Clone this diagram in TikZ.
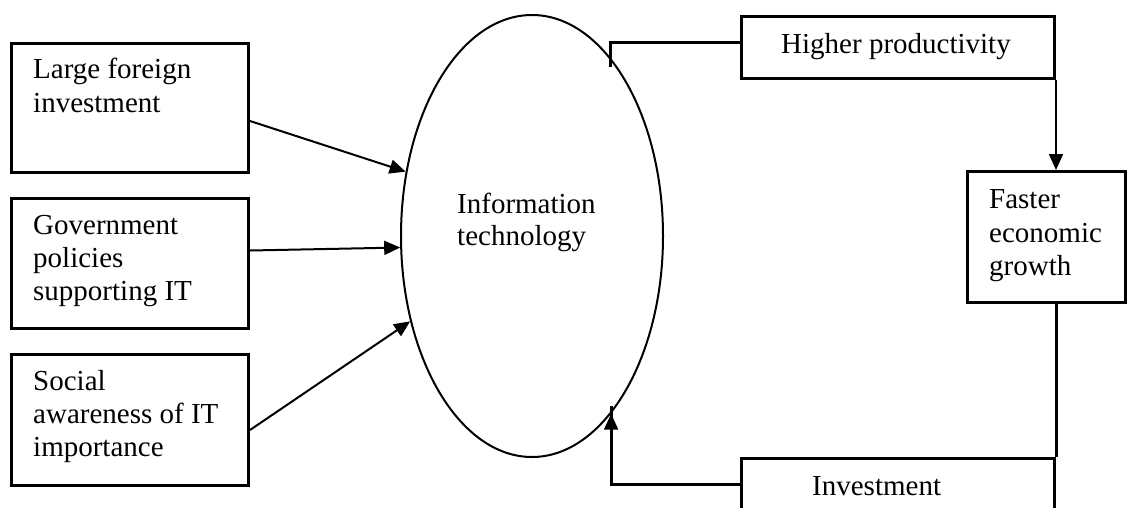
\documentclass[tikz,border=0pt]{standalone}
\usepackage{fontspec}
\setmainfont{Liberation Serif}
\usetikzlibrary{shapes.geometric,arrows.meta}
\begin{document}
\begin{tikzpicture}[x=1pt,y=-1pt,
  boxnode/.style={draw=black,line width=3pt,rectangle,inner sep=0pt,anchor=north west},
  txt/.style={inner sep=0pt,anchor=base west,align=left,font=\fontsize{29}{33}\selectfont},
  conn/.style={draw=black,line width=2pt},
  arr/.style={conn,-{Triangle[length=16pt,width=14pt]}},
  thick3/.style={draw=black,line width=3pt}]
\useasboundingbox (0,0) rectangle (1129,507);
\clip (0,0) rectangle (1129,507);
% left boxes
\node[boxnode,minimum width=237pt,minimum height=129pt] (b1) at (10,42) {};
\node[boxnode,minimum width=237pt,minimum height=130pt] (b2) at (10,197) {};
\node[boxnode,minimum width=237pt,minimum height=131pt] (b3) at (10,353) {};
\node[txt] (t1) at (33,78) {Large foreign};
\node[txt] (t1b) at (33,112) {investment};
\node[txt] (t2) at (33,234) {Government};
\node[txt] (t2b) at (33,267) {policies};
\node[txt] (t2c) at (33,300) {supporting IT};
\node[txt] (t3) at (33,390) {Social};
\node[txt] (t3b) at (33,423) {awareness of IT};
\node[txt] (t3c) at (33,456) {importance};
% ellipse
\node[draw=black,line width=2pt,ellipse,inner sep=0pt,minimum width=262pt,minimum height=442pt] (it) at (532,236) {};
\node[txt] (itt) at (457,213) {Information};
\node[txt] (itt2) at (457,245) {technology};
% right boxes
\node[boxnode,minimum width=313pt,minimum height=62pt] (hp) at (740,15) {};
\node[txt,anchor=base] (hpt) at (896,53) {Higher productivity};
\node[boxnode,minimum width=158pt,minimum height=131pt] (fg) at (966,170) {};
\node[txt] (fgt) at (989,208) {Faster};
\node[txt] (fgt2) at (989,242) {economic};
\node[txt] (fgt3) at (989,275) {growth};
\node[boxnode,minimum width=313pt,minimum height=52pt] (inv) at (740,457) {};
\node[txt] (invt) at (812,495) {Investment};
\coordinate (hpend) at (610,67);
% connectors
\draw[arr] ([yshift=-13pt]b1.east) -- (it.153);
\draw[arr] ([yshift=13pt]b2.east) -- (it.185.7);
\draw[arr] ([yshift=-10pt]b3.east) -- (it.215.3);
\draw[thick3] ([yshift=5pt]hp.west) -| (hpend);
\draw[arr] (hp.south east) -- (hp.south east |- fg.north);
\draw[thick3] (hp.south east |- fg.south) -- (hp.south east |- inv.north);
\draw[thick3] (inv.west) -| ([yshift=8pt]it.-66.3);
\draw[arr] ([yshift=-1pt]inv.west -| it.-66.3) -- (it.-66.3);
\end{tikzpicture}
\end{document}
